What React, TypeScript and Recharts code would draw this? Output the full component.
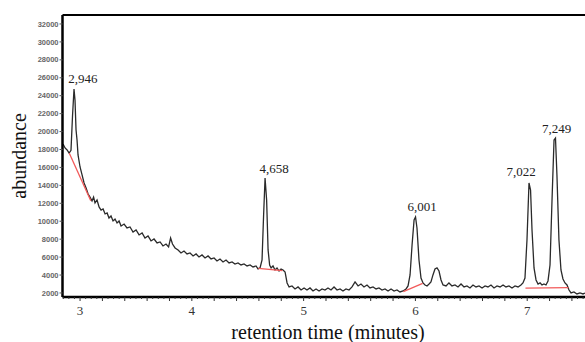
import React from 'react';
import { LineChart, Line, XAxis, YAxis, ReferenceDot, ReferenceLine } from 'recharts';

// chromatogram trace (minutes, abundance)
const traceTime = [
  2.848, 2.866, 2.884, 2.902, 2.919, 2.933, 2.946, 2.955, 2.964, 2.973,
  2.982, 3.0, 3.018, 3.036, 3.054, 3.072, 3.089, 3.107, 3.121, 3.134,
  3.152, 3.17, 3.188, 3.206, 3.224, 3.242, 3.259, 3.277, 3.295, 3.313,
  3.331, 3.349, 3.367, 3.394, 3.42, 3.447, 3.474, 3.501, 3.528, 3.555,
  3.581, 3.608, 3.635, 3.662, 3.689, 3.716, 3.742, 3.769, 3.792, 3.81,
  3.827, 3.85, 3.877, 3.903, 3.93, 3.957, 3.984, 4.011, 4.038, 4.064,
  4.091, 4.118, 4.145, 4.172, 4.199, 4.225, 4.252, 4.279, 4.306, 4.333,
  4.36, 4.386, 4.413, 4.44, 4.467, 4.494, 4.521, 4.547, 4.574, 4.592,
  4.61, 4.628, 4.642, 4.655, 4.669, 4.682, 4.696, 4.709, 4.726, 4.744,
  4.762, 4.78, 4.798, 4.816, 4.834, 4.852, 4.87, 4.896, 4.923, 4.95,
  4.977, 5.004, 5.03, 5.057, 5.084, 5.111, 5.138, 5.165, 5.191, 5.218,
  5.245, 5.272, 5.299, 5.326, 5.352, 5.379, 5.406, 5.433, 5.46, 5.487,
  5.513, 5.54, 5.567, 5.594, 5.621, 5.648, 5.674, 5.701, 5.728, 5.755,
  5.782, 5.809, 5.835, 5.862, 5.889, 5.916, 5.934, 5.952, 5.97, 5.988,
  6.001, 6.014, 6.032, 6.05, 6.068, 6.086, 6.104, 6.122, 6.139, 6.157,
  6.175, 6.193, 6.211, 6.229, 6.247, 6.274, 6.3, 6.327, 6.354, 6.381,
  6.408, 6.435, 6.461, 6.488, 6.515, 6.542, 6.569, 6.596, 6.623, 6.649,
  6.676, 6.703, 6.73, 6.757, 6.784, 6.81, 6.837, 6.864, 6.891, 6.918,
  6.944, 6.962, 6.98, 6.998, 7.016, 7.03, 7.043, 7.061, 7.079, 7.097,
  7.115, 7.132, 7.15, 7.168, 7.186, 7.204, 7.222, 7.24, 7.253, 7.266,
  7.284, 7.302, 7.32, 7.338, 7.356, 7.374, 7.392, 7.418, 7.445, 7.472,
  7.499, 7.517,
];
const traceAbundance = [
  18600, 18170, 17950, 17600, 17900, 21850, 24750, 23500, 20200, 19060,
  17390, 16050, 15160, 14270, 13710, 13040, 12700, 12260, 12700, 12040,
  12370, 11590, 11250, 11370, 10810, 10920, 10360, 10590, 10030, 10250,
  9810, 10030, 9470, 9690, 9250, 9360, 8800, 9020, 8470, 8690,
  8130, 8360, 7800, 8020, 7580, 7690, 7240, 7460, 7130, 8130,
  7460, 7020, 6790, 6460, 6680, 6350, 6460, 6130, 6350, 6010,
  6240, 5900, 6130, 5790, 5900, 5570, 5790, 5460, 5680, 5350,
  5460, 5230, 5350, 5120, 5230, 5010, 5120, 4900, 5010, 4680,
  4790, 5680, 10700, 14820, 12370, 6800, 5120, 4790, 5010, 4560,
  4790, 4450, 4680, 4560, 4340, 3120, 2670, 2780, 2450, 2670,
  2330, 2560, 2330, 2560, 2220, 2450, 2220, 2450, 2330, 2560,
  2330, 2670, 2330, 2450, 2220, 2450, 2330, 2670, 3230, 2780,
  3000, 2670, 2890, 2560, 2670, 2450, 2560, 2330, 2450, 2220,
  2450, 2220, 2330, 2110, 2220, 2450, 2780, 4010, 7350, 10140,
  10470, 9250, 5680, 3670, 3120, 2890, 2780, 3000, 3230, 4010,
  4680, 4790, 4450, 3450, 2890, 2780, 3120, 2780, 2890, 2670,
  3000, 2670, 2780, 2560, 2890, 2670, 2780, 2560, 2780, 2670,
  2890, 2560, 2780, 2670, 2890, 2670, 2780, 2560, 2780, 2670,
  2890, 3120, 3670, 7910, 14270, 13480, 9020, 4790, 3450, 3000,
  3120, 2890, 3000, 2890, 3340, 5120, 12370, 19060, 19280, 15160,
  7910, 4560, 3560, 3120, 2890, 2330, 2000, 2110, 1890, 2000,
  1890, 2000,
];

// integration baselines (red)
const baseStartTime = [2.904, 4.595, 5.892, 6.984];
const baseStartAbundance = [17580, 4750, 2150, 2550];
const baseEndTime = [3.096, 4.81, 6.065, 7.369];
const baseEndAbundance = [12290, 4480, 3080, 2600];

// peak annotations
const peakLabels = ['2,946', '4,658', '6,001', '7,022', '7,249'];
const peakLabelTime = [3.025, 4.735, 6.059, 6.945, 7.264];
const peakLabelAbundance = [25940, 15900, 11620, 15520, 20360];

const yTicks = [2000, 4000, 6000, 8000, 10000, 12000, 14000, 16000, 18000, 20000, 22000, 24000, 26000, 28000, 30000, 32000];
const xLabelTicks = [3, 4, 5, 6, 7];

const serif = "'Liberation Serif', 'Times New Roman', serif";

const trace = traceTime.map((t, i) => ({ t, v: traceAbundance[i] }));
const baselines = baseStartTime.map((t, i) => [
  { t, v: baseStartAbundance[i] },
  { t: baseEndTime[i], v: baseEndAbundance[i] },
]);

// small ticks every 0.05 min, medium every 0.2
const xTicks = Array.from({ length: 94 }, (_, i) => +(2.85 + i * 0.05).toFixed(2));

const XTick = ({ x, y, payload }: any) => {
  const val = payload.value;
  const medium = Math.abs(val * 5 - Math.round(val * 5)) < 1e-6;
  const isLabel = xLabelTicks.some((n) => Math.abs(n - val) < 1e-6);
  return (
    <g>
      <line x1={x} x2={x} y1={y} y2={y + (medium ? 4 : 2)} stroke="#333" strokeWidth={1} />
      {isLabel && (
        <text x={x} y={y + 17.5} textAnchor="middle" fontFamily={serif} fontSize={13} fill="#333">
          {Math.round(val)}
        </text>
      )}
    </g>
  );
};

export default function App() {
  return (
    <div style={{ position: 'absolute', left: 0, top: 0, width: 585, height: 342, background: '#fff' }}>
      <LineChart width={585} height={342} data={trace} margin={{ top: 15, right: 0, bottom: 0, left: 0 }}>
        <XAxis
          dataKey="t"
          type="number"
          domain={[2.843, 7.517]}
          allowDataOverflow
          ticks={xTicks}
          interval={0}
          height={45}
          tickSize={0}
          tickMargin={0}
          tickLine={false}
          tick={<XTick />}
          axisLine={{ stroke: '#000', strokeWidth: 2.5 }}
        />
        <YAxis
          type="number"
          domain={[1550, 33000]}
          allowDataOverflow
          ticks={yTicks}
          interval={0}
          width={62.5}
          tickSize={3}
          tickMargin={1}
          tickLine={{ stroke: '#555' }}
          axisLine={{ stroke: '#000', strokeWidth: 2.5 }}
          tick={{ fontSize: 7.5, fontWeight: 'bold', fill: '#666', fontFamily: 'Arial, sans-serif' }}
        />
        <ReferenceLine y={33000} stroke="#000" strokeWidth={2} />
        <Line
          dataKey="v"
          stroke="#2a2a2a"
          strokeWidth={1.3}
          dot={false}
          isAnimationActive={false}
        />
        {baselines.map((seg, i) => (
          <Line
            key={i}
            data={seg}
            dataKey="v"
            stroke="#f25a5a"
            strokeWidth={1.3}
            dot={false}
            isAnimationActive={false}
          />
        ))}
        {peakLabels.map((lab, i) => (
          <ReferenceDot
            key={lab}
            x={peakLabelTime[i]}
            y={peakLabelAbundance[i]}
            r={0}
            fill="none"
            stroke="none"
            label={{ value: lab, position: 'center', fontSize: 13, fontFamily: serif, fill: '#222' }}
          />
        ))}
      </LineChart>
      <svg width={585} height={342} style={{ position: 'absolute', left: 0, top: 0, pointerEvents: 'none' }}>
        <text x={328} y={339} textAnchor="middle" fontFamily={serif} fontSize={20} fill="#111">
          retention time (minutes)
        </text>
        <text
          x={26}
          y={156}
          transform="rotate(-90, 26, 156)"
          textAnchor="middle"
          fontFamily={serif}
          fontSize={20}
          fill="#111"
        >
          abundance
        </text>
      </svg>
    </div>
  );
}
